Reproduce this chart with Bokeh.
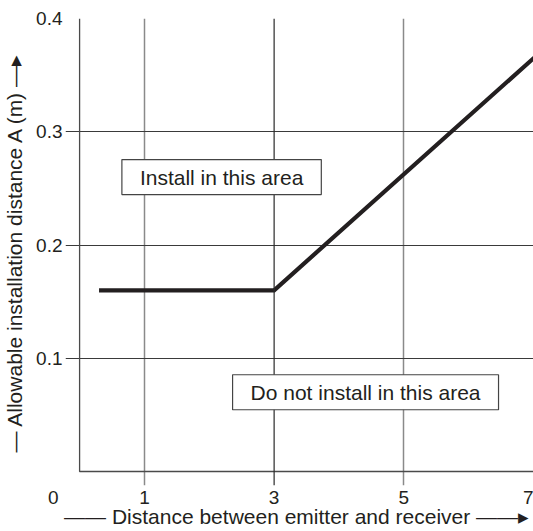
from bokeh.plotting import figure
from bokeh.models import Range1d, FixedTicker, Span
from bokeh.models import Label
from bokeh.embed import file_html
from bokeh.resources import INLINE

# Data
x_dist = [0.3, 3.0, 7.1]          # distance between emitter and receiver
y_allow = [0.16, 0.16, 0.37]      # allowable installation distance A (m)
x_ticks = [0, 1, 3, 5, 7]
x_tick_labels = ["0" + "\u00a0" * 10, "1", "3", "5", "7"]
y_ticks = [0.1, 0.2, 0.3, 0.4]
y_tick_labels = ["0.1", "0.2", "0.3", "0.4"]
x_grid = [1, 5]
x_dark = 3
x_max, y_max = 7.0, 0.4
area_ok = ("Install in this area", 2.19, 0.26)
area_ng = ("Do not install in this area", 4.41, 0.070)
x_title = "—— Distance between emitter and receiver  ——\u25b8"
y_title = "— Allowable installation distance A (m) —\u25b8"

FONT = "Liberation Sans"
TXT = "#231f20"
TICK_PAD_X = 14 / 64.43     # tick-length margin in data units (x)
TICK_PAD_Y = 14 / 1132.5    # tick-length margin in data units (y)

p = figure(width=533, height=531, output_backend="svg", toolbar_location=None,
           x_range=Range1d(-TICK_PAD_X, x_max), y_range=Range1d(-TICK_PAD_Y, y_max),
           min_border_left=65, min_border_top=18, min_border_right=0, min_border_bottom=46)
p.outline_line_color = None
p.background_fill_color = "white"

# grids (they run past the box by the tick length, like the original's ticks)
p.xgrid.ticker = FixedTicker(ticks=x_grid)
p.xgrid.grid_line_color = "#8a8a8a"
p.xgrid.grid_line_width = 1.5
p.ygrid.ticker = FixedTicker(ticks=y_ticks)
p.ygrid.grid_line_color = "#3a3a3a"
p.ygrid.grid_line_width = 1.2
p.add_layout(Span(location=x_dark, dimension="height", line_color="#2a2a2a", line_width=1.2))

# box border (left and bottom)
p.line([0, 0, x_max + 1], [y_max, 0, 0], line_color="#4a4a4a", line_width=1.3)

# curve
p.line(x_dist, y_allow, line_width=4.2, line_color="#231f20", line_join="miter")

# axes
p.xaxis.ticker = FixedTicker(ticks=x_ticks)
p.yaxis.ticker = FixedTicker(ticks=y_ticks)
p.xaxis.major_label_overrides = dict(zip(x_ticks, x_tick_labels))
p.yaxis.major_label_overrides = dict(zip(y_ticks, y_tick_labels))
for ax in (p.xaxis[0], p.yaxis[0]):
    ax.major_tick_out = 0
    ax.major_tick_in = 0
    ax.minor_tick_out = 0
    ax.minor_tick_in = 0
    ax.axis_line_color = None
    ax.major_label_text_font = FONT
    ax.major_label_text_font_size = "19px"
    ax.major_label_text_color = TXT
    ax.axis_label_text_font = FONT
    ax.axis_label_text_font_size = "21px"
    ax.axis_label_text_font_style = "normal"
    ax.axis_label_text_color = TXT
p.xaxis.major_label_standoff = 1
p.yaxis.major_label_standoff = 3
p.xaxis.axis_label_standoff = -6
p.yaxis.axis_label_standoff = 7
p.xaxis.axis_label = x_title
p.yaxis.axis_label = y_title

# area boxes
for txt, xx, yy in (area_ok, area_ng):
    p.add_layout(Label(x=xx, y=yy, text=txt, text_align="center", text_baseline="middle",
                       text_font=FONT, text_font_size="21px", text_color=TXT,
                       background_fill_color="white", border_line_color="#444444",
                       border_line_width=1.2,
                       padding=dict(left=18, right=18, top=6, bottom=6)))

open("out.html", "w").write(file_html(p, INLINE))
